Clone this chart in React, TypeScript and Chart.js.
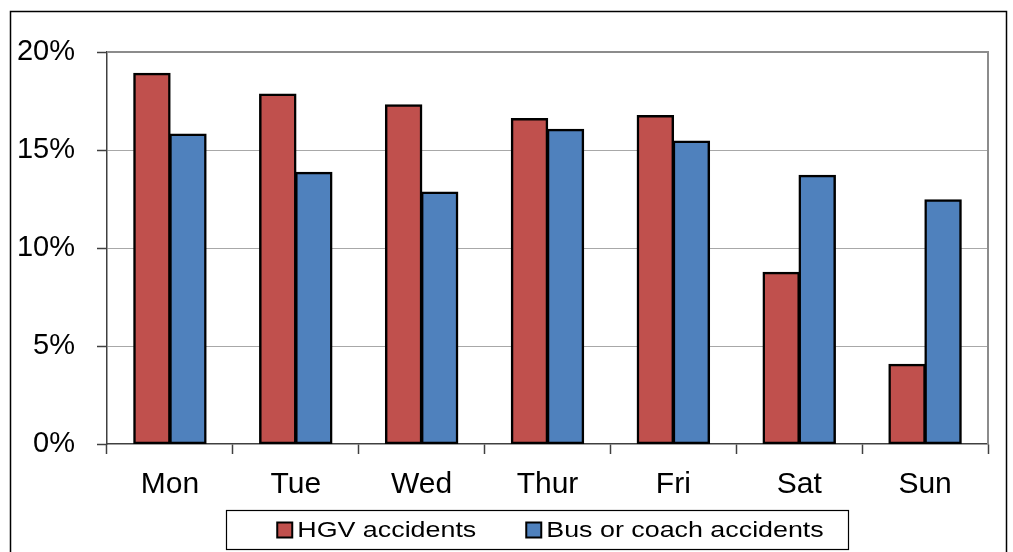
import { useEffect, useRef } from 'react';
import { Chart, registerables } from 'chart.js';

Chart.register(...registerables);

const days = ['Mon', 'Tue', 'Wed', 'Thur', 'Fri', 'Sat', 'Sun'];
const hgvShare = [18.9, 17.85, 17.3, 16.6, 16.75, 8.75, 4.05];
const busShare = [15.8, 13.85, 12.85, 16.05, 15.45, 13.7, 12.45];
const seriesNames = ['HGV accidents', 'Bus or coach accidents'];
const seriesColors = ['#C0504D', '#4F81BD'];
const yMin = 0;
const yMax = 20;
const yStep = 5;

const FONT = '"Liberation Sans", Arial, sans-serif';

const framePlugin = {
  id: 'frameAndLegend',
  beforeDraw(chart: any) {
    const ctx = chart.ctx;
    ctx.save();
    ctx.fillStyle = '#ffffff';
    ctx.fillRect(0, 0, chart.width, chart.height);
    ctx.strokeStyle = '#000000';
    ctx.lineWidth = 1.5;
    ctx.strokeRect(10.5, 11.5, chart.width - 17, chart.height + 20);
    ctx.restore();
  },
  afterDraw(chart: any) {
    const ctx = chart.ctx;
    const { left, right, top, bottom } = chart.chartArea;
    ctx.save();
    // plot area top / right border
    ctx.strokeStyle = '#8c8c8c';
    ctx.lineWidth = 2;
    ctx.beginPath();
    ctx.moveTo(left, top);
    ctx.lineTo(right, top);
    ctx.lineTo(right, bottom);
    ctx.stroke();

    // custom legend
    const fontPx = 22;
    const sx = 1.22;
    ctx.font = `${fontPx}px ${FONT}`;
    const box = 15;
    const gap = 5;
    const spacing = 50;
    const items = chart.data.datasets.map((ds: any) => ({
      label: ds.label,
      color: ds.backgroundColor,
      w: ctx.measureText(ds.label).width * sx,
    }));
    const total =
      items.reduce((s: number, it: any) => s + box + gap + it.w, 0) +
      spacing * (items.length - 1);
    const cx = (left + right) / 2 + 3;
    let x = cx - total / 2;
    const cy = 530;
    ctx.strokeStyle = '#000000';
    ctx.lineWidth = 1.2;
    ctx.strokeRect(Math.round(x - 51) + 0.5, 510.5, Math.round(total + 75), 39);
    ctx.textBaseline = 'middle';
    ctx.textAlign = 'left';
    for (const it of items) {
      ctx.fillStyle = it.color;
      ctx.fillRect(x, cy - box / 2, box, box);
      ctx.strokeStyle = '#000000';
      ctx.lineWidth = 2;
      ctx.strokeRect(x, cy - box / 2, box, box);
      ctx.save();
      ctx.translate(x + box + gap, cy + 1);
      ctx.scale(sx, 1);
      ctx.fillStyle = '#000000';
      ctx.fillText(it.label, 0, 0);
      ctx.restore();
      x += box + gap + it.w + spacing;
    }
    ctx.restore();
  },
};

export default function App() {
  const ref = useRef<HTMLCanvasElement | null>(null);

  useEffect(() => {
    document.body.style.margin = '0';
    if (!ref.current) return;
    const barStyle = {
      borderColor: '#000000',
      borderWidth: 2.5,
      borderSkipped: false as const,
      inflateAmount: 0.75,
      categoryPercentage: 0.572,
      barPercentage: 1.0,
    };
    const chart = new Chart(ref.current, {
      type: 'bar',
      data: {
        labels: days,
        datasets: [
          {
            label: seriesNames[0],
            data: hgvShare,
            backgroundColor: seriesColors[0],
            ...barStyle,
          },
          {
            label: seriesNames[1],
            data: busShare,
            backgroundColor: seriesColors[1],
            ...barStyle,
          },
        ],
      },
      options: {
        responsive: false,
        animation: false,
        devicePixelRatio: 1,
        layout: { padding: { top: 52, right: 25, left: 0, bottom: 0 } },
        plugins: {
          legend: { display: false },
          tooltip: { enabled: false },
          title: { display: false },
        },
        scales: {
          x: {
            type: 'category',
            afterFit(scale: any) {
              scale.height = 108;
            },
            grid: {
              display: true,
              offset: true,
              drawOnChartArea: false,
              tickLength: 10,
              tickColor: '#404040',
              tickWidth: 1.5,
            },
            border: { display: true, color: '#404040', width: 1.5 },
            ticks: {
              color: '#000000',
              padding: 13,
              font: { family: FONT, size: 30 },
              maxRotation: 0,
            },
          },
          y: {
            min: yMin,
            max: yMax,
            afterFit(scale: any) {
              scale.width = 107;
            },
            ticks: {
              stepSize: yStep,
              color: '#000000',
              padding: 22,
              font: { family: FONT, size: 29 },
              callback: (v: any) => `${v}%`,
            },
            grid: {
              color: (c: any) =>
                c.tick && (c.tick.value === yMin || c.tick.value === yMax)
                  ? 'rgba(0,0,0,0)'
                  : '#a8a8a8',
              lineWidth: 1,
              borderDash: [2, 2],
              tickBorderDash: [],
              tickLength: 10,
              tickColor: '#404040',
              tickWidth: 1.5,
            },
            border: { display: true, color: '#404040', width: 1.5 },
          },
        },
      },
      plugins: [framePlugin],
    });
    return () => chart.destroy();
  }, []);

  return (
    <div style={{ width: 1013, height: 552 }}>
      <canvas ref={ref} width={1013} height={552} style={{ display: 'block' }} />
    </div>
  );
}
